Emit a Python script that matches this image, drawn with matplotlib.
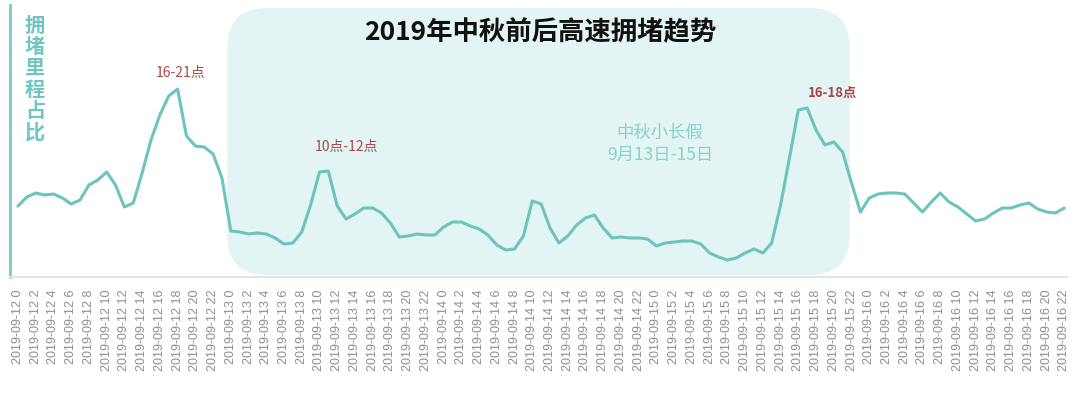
import numpy as np
import matplotlib
matplotlib.use('Agg')
import matplotlib.pyplot as plt
from matplotlib.patches import FancyBboxPatch

plt.rcParams['font.family'] = ['Noto Sans CJK SC', 'DejaVu Sans']

# hourly share of congested mileage, 2019-09-12 0h .. 2019-09-16 22h
hours = np.arange(119)
congestion = [71, 80, 84, 82, 83, 79, 73, 77, 92, 97,
              105, 92, 70, 74, 104, 137, 162, 181, 188, 141,
              131, 130, 123, 99, 46, 45, 43, 44, 43, 39,
              33, 34, 45, 72, 105, 106, 71, 58, 63, 69,
              69, 64, 54, 40, 41, 43, 42, 42, 50, 55,
              55, 51, 48, 42, 32, 27, 28, 41, 76, 73,
              49, 34, 41, 52, 59, 62, 49, 39, 40, 39,
              39, 38, 31, 34, 35, 36, 36, 33, 24, 20,
              17, 19, 24, 28, 24, 34, 72, 119, 167, 169,
              147, 132, 135, 125, 94, 65, 79, 83, 84, 84,
              83, 74, 65, 75, 84, 75, 70, 63, 56, 58,
              64, 69, 69, 72, 74, 68, 65, 64, 69]

tick_hours = hours[::2]
tick_labels = [f'2019-09-{12 + h // 24} {h % 24}' for h in tick_hours]

peak_labels = ['16-21点', '10点-12点', '16-18点']

teal = '#6cc4bd'

fig = plt.figure(figsize=(10.8, 3.95), dpi=100)
ax = fig.add_axes([10 / 1080, 1 - 277 / 395, 1057 / 1080, 272 / 395])

# holiday box (Sep 13 - 15)
box = FancyBboxPatch((23.6, 2), 93.8 - 23.6, 267,
                     boxstyle='round,pad=0,rounding_size=4.5',
                     mutation_aspect=8.87, fc='#e2f4f3', ec='none', zorder=0)
ax.add_patch(box)

ax.plot(hours, congestion, color=teal, lw=2.2, solid_capstyle='round', zorder=3)

ax.set_xlim(-0.9, 118.3)
ax.set_ylim(0, 272)
ax.set_yticks([])
ax.set_xticks(tick_hours)
ax.set_xticklabels(tick_labels, rotation=90, fontfamily='Liberation Sans',
                   fontsize=9, color='#8e8e8e')
ax.tick_params(axis='x', length=0, pad=9)

for s in ['top', 'right']:
    ax.spines[s].set_visible(False)
ax.spines['left'].set_color('#7cc9c4')
ax.spines['left'].set_linewidth(2)
ax.spines['bottom'].set_color('#e4e4e4')
ax.spines['bottom'].set_linewidth(1.5)

# peak notes
ax.text(18.3, 204, peak_labels[0], ha='center', va='center', fontsize=10, color='#a84a46')
ax.text(37.1, 130, peak_labels[1], ha='center', va='center', fontsize=10, color='#a84a46')
ax.text(91.9, 184, peak_labels[2], ha='center', va='center', fontsize=9.5,
        color='#b04440', fontweight='bold')

ax.text(72.4, 133, '中秋小长假\n9月13日-15日', ha='center', va='center', fontsize=12.5,
        color='#88d1cc', linespacing=1.25)

fig.text(540 / 1080, 1 - 33 / 395, '2019年中秋前后高速拥堵趋势', ha='center', va='center',
         fontsize=19, fontweight='bold', color='#111111')

# vertical y label, one character per row
for i, ch in enumerate('拥堵里程占比'):
    fig.text(35 / 1080, 1 - (25 + 21.4 * i) / 395, ch, ha='center', va='center',
             fontsize=14.5, fontweight='bold', color='#6fc5bf')

fig.savefig('out.png', dpi=100)
